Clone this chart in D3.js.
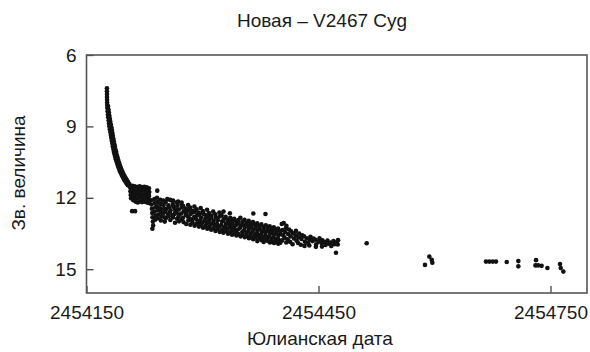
<!DOCTYPE html>
<html>
<head>
<meta charset="utf-8">
<script src="https://cdn.jsdelivr.net/npm/d3@7"></script>
<style>
  html, body { margin: 0; padding: 0; background: #fff; }
  svg { display: block; font-family: "Liberation Sans", Arial, Helvetica, sans-serif; }
</style>
</head>
<body>
<svg id="chart" width="590" height="352"></svg>
<script>
// Julian date of the first x tick; observations are stored as days after it
const JD0 = 2454150;

const xTicks = [2454150, 2454450, 2454750];
const yTicks = [6, 9, 12, 15];

// [days after JD0, magnitude]
const peakDecline = [
  [26.4,7.40],[26.4,7.52],[26.5,7.64],[26.5,7.76],[26.6,7.88],[26.7,8.00],[26.8,8.10],
  [27.9,8.16],[26.9,8.22],[28.5,8.30],[27.3,8.36],[29.0,8.42],[27.7,8.50],[29.6,8.55],
  [28.1,8.62],[30.2,8.68],[28.6,8.75],[30.8,8.80],[29.1,8.88],[31.5,8.92],[29.6,9.00],
  [32.2,9.04],[30.2,9.12],[32.9,9.15],[30.8,9.24],[33.5,9.28],[31.4,9.36],[34.1,9.40],
  [32.0,9.48],[34.8,9.52],[32.7,9.60],[35.4,9.63],[33.4,9.72],[36.1,9.75],[34.0,9.84],
  [36.8,9.86],[34.7,9.95],[37.6,9.98],[35.4,10.06],[38.4,10.08],[36.1,10.16],[39.2,10.20],
  [37.0,10.27],[40.1,10.30],[37.9,10.38],[41.0,10.41],[38.8,10.48],[42.0,10.52],[39.8,10.58],
  [43.1,10.62],[40.9,10.68],[44.2,10.72],[42.0,10.78],[45.4,10.82],[43.2,10.88],[46.7,10.92],
  [44.5,10.97],[48.0,11.01],[45.8,11.06],[49.4,11.10],[47.2,11.15],[50.8,11.18],[48.6,11.24],
  [52.3,11.26],[50.2,11.32],[53.8,11.34],[51.8,11.40],[55.4,11.42],[53.5,11.47],[55.9,11.52]
];

const plateau = [
  [56.2,11.55],[56.8,11.72],[57.1,11.88],[57.6,12.02],
  [59.3,11.50],[59.8,11.66],[60.2,11.80],[59.6,11.95],[60.5,12.10],
  [62.4,11.52],[62.9,11.68],[63.1,11.84],[62.6,12.00],[63.4,12.16],
  [65.5,11.55],[65.9,11.70],[66.2,11.86],[65.7,12.02],[66.4,12.20],
  [68.6,11.52],[69.0,11.68],[68.8,11.84],[69.3,12.00],[68.9,12.16],
  [71.7,11.55],[72.1,11.70],[71.9,11.86],[72.4,12.02],[72.0,12.18],
  [74.8,11.54],[75.2,11.70],[75.0,11.85],[75.5,12.00],[75.1,12.16],
  [77.8,11.56],[78.3,11.72],[78.0,11.88],[78.5,12.04],[78.2,12.20],
  [80.7,11.60],[81.2,11.76],[80.9,11.92],[81.4,12.08],[80.6,12.22],
  [59.0,12.56],[62.8,12.56],
  [83.5,12.10],[84.0,12.28],[84.6,12.46],[85.0,12.64],[85.4,12.82],[85.8,13.00],[86.2,13.16],[85.2,13.30],
  [87.8,12.05],[88.4,12.22],[89.0,12.40],[88.2,12.58],[89.6,12.75],[88.8,12.92],
  [91.5,11.70],
  [91.2,12.00],[92.0,12.18],[91.6,12.36],[92.6,12.52],[93.0,12.70],[92.2,12.86],
  [95.4,12.08],[96.0,12.26],[95.6,12.44],[96.6,12.60],[97.0,12.78],[96.2,12.95],
  [99.2,12.12],[99.8,12.30],[100.4,12.46],[99.5,12.64],[100.8,12.82],[101.2,13.00]
];

const slowDecline = [
  [104.5,12.05],[108.5,12.10],[112.0,12.12],[118.5,12.16],[123.0,12.20],
  [102.4,12.18],[102.9,12.47],[102.1,12.58],[102.6,12.86],
  [105.9,12.31],[106.4,12.40],[105.6,12.69],[106.1,12.77],
  [108.1,12.08],[108.7,12.52],[107.8,12.61],[108.4,12.93],
  [111.6,12.26],[112.1,12.37],[111.3,12.74],[111.9,12.83],
  [114.2,12.44],[114.8,12.55],[113.9,12.68],[114.5,13.05],
  [116.9,12.19],[117.4,12.33],[116.6,12.62],[117.2,12.88],
  [119.3,12.49],[119.9,12.71],[119.0,12.80],[119.6,12.99],
  [122.8,12.28],[123.3,12.41],[122.5,12.66],[123.1,12.91],
  [125.1,12.35],[125.7,12.57],[124.8,12.84],[125.4,13.02],
  [128.7,12.46],[129.2,12.63],[128.4,12.72],[129.0,13.10],
  [131.4,12.30],[132.0,12.52],[131.1,12.79],[131.7,12.95],
  [134.0,12.41],[134.5,12.68],[133.7,12.87],[134.3,13.13],
  [136.8,12.55],[137.4,12.62],[136.5,12.93],[137.1,13.04],
  [139.5,12.37],[140.0,12.59],[139.2,12.81],[139.8,13.17],
  [142.3,12.48],[142.9,12.74],[142.0,12.90],[142.6,13.08],
  [145.1,12.62],[145.6,12.70],[144.8,12.99],[145.4,13.21],
  [147.6,12.43],[148.2,12.83],[147.3,12.95],[147.9,13.12],
  [150.4,12.56],[150.9,12.67],[150.1,13.04],[150.7,13.26],
  [153.2,12.71],[153.8,12.88],[152.9,12.97],[153.5,13.19],
  [155.9,12.50],[156.4,12.79],[155.6,13.08],[156.2,13.30],
  [158.3,12.64],[158.9,12.92],[158.0,13.01],[158.6,13.23],
  [161.0,12.75],[161.5,12.84],[160.7,13.13],[161.3,13.34],
  [163.8,12.58],[164.4,12.97],[163.5,13.06],[164.1,13.28],
  [166.5,12.69],[167.0,12.81],[166.2,13.17],[166.8,13.39],
  [169.1,12.86],[169.7,12.94],[168.8,13.10],[169.4,13.31],
  [171.9,12.62],[172.4,12.78],[171.6,13.21],[172.2,13.43],
  [174.6,12.73],[175.2,13.00],[174.3,13.14],[174.9,13.36],
  [177.2,12.58],[177.7,12.88],[176.9,12.96],[177.5,13.26],[177.0,13.47],
  [179.9,12.80],[180.5,13.08],[179.6,13.19],[180.2,13.40],
  [182.7,12.91],[183.2,13.03],[182.4,13.30],[183.0,13.51],
  [185.4,12.65],[185.9,12.84],[185.1,13.15],[185.7,13.24],[185.3,13.45],
  [188.0,12.96],[188.6,13.09],[187.7,13.37],[188.3,13.55],
  [190.9,12.88],[191.4,13.20],[190.6,13.28],[191.2,13.48],
  [193.5,13.01],[194.1,13.13],[193.2,13.41],[193.8,13.58],
  [196.2,12.93],[196.7,13.06],[195.9,13.33],[196.5,13.52],
  [199.0,12.84],[199.6,13.17],[198.7,13.26],[199.3,13.62],
  [201.7,13.00],[202.2,13.11],[201.4,13.44],[202.0,13.55],
  [204.3,12.92],[204.9,13.23],[204.0,13.35],[204.6,13.66],
  [207.1,13.05],[207.6,13.16],[206.8,13.47],[207.4,13.59],
  [209.8,12.97],[210.4,13.28],[209.5,13.39],[210.1,13.70],
  [212.4,13.10],[212.9,13.21],[212.1,13.51],[212.7,13.63],
  [215.7,12.66],[215.2,13.02],[215.8,13.33],[214.9,13.44],[215.5,13.74],
  [218.0,13.14],[218.6,13.26],[217.7,13.56],[218.3,13.67],
  [220.6,13.07],[221.1,13.38],[220.3,13.49],[220.9,13.82],
  [223.3,13.19],[223.9,13.30],[223.0,13.60],[223.6,13.71],
  [226.1,13.11],[226.6,13.42],[225.8,13.53],[226.4,13.78],
  [228.8,13.23],[229.4,13.35],[228.5,13.65],[229.1,13.86],
  [231.4,12.68],[231.9,13.16],[231.1,13.46],[231.7,13.58],[231.3,13.76],
  [234.2,13.27],[234.8,13.39],[233.9,13.69],[234.5,13.81],
  [236.9,13.20],[237.4,13.50],[236.6,13.62],[237.2,13.88],
  [239.5,13.32],[240.1,13.43],[239.2,13.73],[239.8,13.84],
  [242.2,13.24],[242.7,13.54],[241.9,13.66],[242.5,13.90],
  [245.0,13.36],[245.6,13.48],[244.7,13.77],[245.3,13.86],
  [247.7,13.29],[248.2,13.58],[247.4,13.70],[248.0,13.93],
  [250.3,13.40],[250.9,13.52],[250.0,13.81],[250.6,13.89]
];

const tail = [
  [252.5,13.10],[255.0,13.06],[258.5,13.18],
  [253.5,13.36],[254.4,13.58],[252.9,13.79],
  [256.8,13.44],[257.9,13.27],[256.2,13.68],[258.3,13.88],
  [260.6,13.52],[261.8,13.33],[260.1,13.74],
  [263.9,13.62],[264.6,13.41],[263.2,13.85],
  [267.1,13.49],[268.3,13.71],[266.5,13.95],
  [270.4,13.58],[271.7,13.80],[270.9,13.39],
  [274.2,13.66],[275.0,13.50],[273.6,13.90],
  [277.8,13.73],[278.9,13.58],[277.1,13.97],
  [281.3,13.62],[282.4,13.84],[281.9,14.02],
  [285.0,13.70],[286.2,13.90],
  [288.7,13.78],[289.6,13.64],[288.1,14.00],
  [292.3,13.82],[293.5,13.71],
  [296.1,13.76],[297.0,13.95],[296.6,14.06],
  [300.2,13.84],[301.4,13.70],
  [303.9,13.90],[305.1,13.79],[304.5,14.05],
  [307.8,13.86],[309.0,13.98],
  [311.6,13.80],[312.9,13.93],
  [315.7,13.88],[316.5,14.02],
  [319.4,13.82],[320.6,13.95],
  [323.8,13.86],[324.9,13.96],[325.3,13.78],
  [322.6,14.31]
];

const lateObs = [
  [362.3,13.91],
  [437.7,14.82],[443.3,14.47],[446.4,14.61],[447.2,14.73],
  [516.6,14.68],[520.9,14.68],[525.3,14.68],[529.5,14.68],
  [543.4,14.70],
  [558.4,14.66],[558.4,14.88],
  [581.3,14.62],[580.5,14.84],[584.0,14.84],[588.5,14.86],[596.0,14.95],
  [612.3,14.78],[613.2,14.95],[616.6,15.10]
];

const observations = [].concat(peakDecline, plateau, slowDecline, tail, lateObs);

const svg = d3.select('#chart');
const plot = {left: 86.5, right: 587, top: 55, bottom: 293};
const fontSize = 19;

const xscale = d3.scaleLinear()
  .domain([JD0, JD0 + 647.2])
  .range([plot.left, plot.right]);

const yscale = d3.scaleLinear()
  .domain([6, 16])
  .range([plot.top, plot.bottom]);

// points
svg.append('g')
  .selectAll('circle')
  .data(observations)
  .enter()
  .append('circle')
  .attr('cx', d => xscale(JD0 + d[0]))
  .attr('cy', d => yscale(d[1]))
  .attr('r', 2.3)
  .attr('fill', '#111');

// inward ticks, no domain line (frame is drawn separately)
const axisX = d3.axisBottom(xscale)
  .tickValues(xTicks)
  .tickFormat(d3.format('d'))
  .tickSizeInner(-7)
  .tickSizeOuter(0)
  .tickPadding(13);
const gx = svg.append('g')
  .attr('transform', 'translate(0,' + plot.bottom + ')')
  .call(axisX);

const axisY = d3.axisLeft(yscale)
  .tickValues(yTicks)
  .tickSizeInner(-7)
  .tickSizeOuter(0)
  .tickPadding(10);
const gy = svg.append('g')
  .attr('transform', 'translate(' + plot.left + ',0)')
  .call(axisY);

[gx, gy].forEach(g => {
  g.select('.domain').remove();
  g.attr('font-size', fontSize)
    .attr('font-family', null);
  g.selectAll('.tick line').attr('stroke', '#444').attr('stroke-width', 1.3);
  g.selectAll('.tick text').attr('fill', '#1a1a1a');
});

svg.append('rect')
  .attr('x', plot.left)
  .attr('y', plot.top)
  .attr('width', plot.right - plot.left)
  .attr('height', plot.bottom - plot.top)
  .attr('fill', 'none')
  .attr('stroke', '#555')
  .attr('stroke-width', 1.6);

// titles
svg.append('text')
  .attr('x', 322)
  .attr('y', 27)
  .attr('text-anchor', 'middle')
  .attr('font-size', fontSize)
  .attr('fill', '#1a1a1a')
  .text('Новая – V2467 Cyg');

svg.append('text')
  .attr('x', 320)
  .attr('y', 345)
  .attr('text-anchor', 'middle')
  .attr('font-size', fontSize)
  .attr('fill', '#1a1a1a')
  .text('Юлианская дата');

svg.append('text')
  .attr('transform', 'translate(25,173) rotate(-90)')
  .attr('text-anchor', 'middle')
  .attr('font-size', fontSize)
  .attr('fill', '#1a1a1a')
  .text('Зв. величина');
</script>
</body>
</html>
